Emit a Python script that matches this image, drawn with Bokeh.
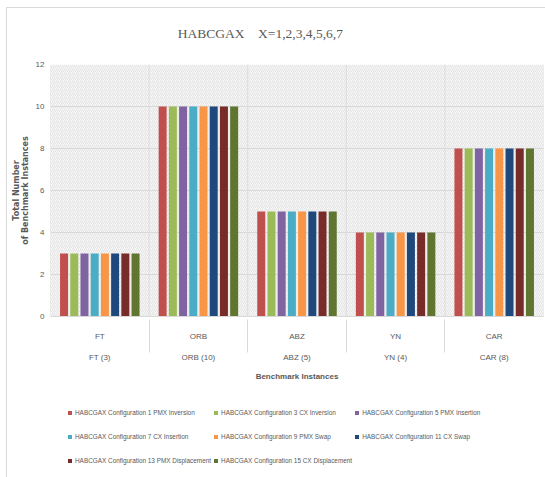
from bokeh.plotting import figure
from bokeh.layouts import column
from bokeh.models import (FactorRange, Range1d, ColumnDataSource, Legend, LegendItem,
                          BoxAnnotation, Span, FixedTicker)
from bokeh.core.properties import value
from bokeh.transform import dodge
from bokeh.embed import file_html
from bokeh.resources import INLINE

# Benchmark families and number of instances in each
categories = ["FT", "ORB", "ABZ", "YN", "CAR"]
instance_counts = [3, 10, 5, 4, 8]

# Number of benchmark instances handled by each configuration
series_names = [
    "HABCGAX Configuration 1 PMX Inversion",
    "HABCGAX Configuration 3 CX Inversion",
    "HABCGAX Configuration 5 PMX Insertion",
    "HABCGAX Configuration 7 CX Insertion",
    "HABCGAX Configuration 9 PMX Swap",
    "HABCGAX Configuration 11 CX Swap",
    "HABCGAX Configuration 13 PMX Displacement",
    "HABCGAX Configuration 15 CX Displacement",
]
series_values = [
    [3, 10, 5, 4, 8],
    [3, 10, 5, 4, 8],
    [3, 10, 5, 4, 8],
    [3, 10, 5, 4, 8],
    [3, 10, 5, 4, 8],
    [3, 10, 5, 4, 8],
    [3, 10, 5, 4, 8],
    [3, 10, 5, 4, 8],
]
series_colors = ["#C0504D", "#9BBB59", "#8064A2", "#4BACC6",
                 "#F79646", "#1F497D", "#772C2A", "#5F7530"]
y_ticks = [0, 2, 4, 6, 8, 10, 12]
chart_title = "HABCGAX\u00a0\u00a0\u00a0 X=1,2,3,4,5,6,7"

FONT = "Liberation Sans"
GREY = "#595959"
W = 538

# ---- title strip ----
head = figure(width=W, height=48, output_backend="svg", toolbar_location=None,
              x_range=Range1d(0, W), y_range=Range1d(0, 48),
              min_border=0, outline_line_color=None)
head.axis.visible = False
head.grid.grid_line_color = None
head.text(x=[229], y=[23], text=[chart_title], text_align="center",
          text_baseline="middle", text_font=value("Liberation Serif"),
          text_font_size="13.5px", text_color=GREY)

# ---- chart ----
factors = [(f"{c} ({n})", c) for c, n in zip(categories, instance_counts)]

p = figure(frame_width=493, frame_height=252, output_backend="svg",
           toolbar_location=None,
           x_range=FactorRange(*factors, group_padding=0, factor_padding=0,
                               range_padding=0),
           y_range=Range1d(0, 12),
           min_border_left=43, min_border_right=2, min_border_top=8,
           min_border_bottom=69)
p.outline_line_color = None
p.background_fill_color = "white"
p.border_fill_color = "white"

# hatched plot area
p.add_layout(BoxAnnotation(fill_color="#f6f6f6", fill_alpha=1.0, line_color=None,
                           hatch_pattern="/", hatch_color="#d9d9d9",
                           hatch_scale=4, hatch_weight=0.6, level="image"))

# group boundaries inside the plot area
for i in range(len(categories) + 1):
    p.add_layout(Span(location=i, dimension="height", line_color="#dddddd",
                      line_width=1, level="underlay"))

src = ColumnDataSource({"x": factors})
pitch = 0.1036
bar_w = 0.081
for k, (vals, col) in enumerate(zip(series_values, series_colors)):
    src.data[f"s{k}"] = vals
    p.vbar(x=dodge("x", (k - 3.5) * pitch, range=p.x_range), top=f"s{k}",
           width=bar_w, source=src, fill_color=col, line_color=None)

# grid
p.xgrid.grid_line_color = None
p.ygrid.grid_line_color = "#d9d9d9"
p.ygrid.grid_line_width = 1

# y axis
p.yaxis.ticker = FixedTicker(ticks=y_ticks)
p.yaxis.axis_line_color = None
p.yaxis.major_tick_line_color = None
p.yaxis.major_tick_out = 0
p.yaxis.minor_tick_line_color = None
p.yaxis.minor_tick_out = 0
p.yaxis.major_label_text_font = FONT
p.yaxis.major_label_text_font_size = "8px"
p.yaxis.major_label_text_color = GREY
p.yaxis.major_label_standoff = 6
p.yaxis.axis_label = "Total Number\nof Benchmark Instances"
p.yaxis.axis_label_text_font = "DejaVu Sans"
p.yaxis.axis_label_text_font_style = "bold"
p.yaxis.axis_label_text_font_size = "8px"
p.yaxis.axis_label_text_color = GREY
p.yaxis.axis_label_text_line_height = 1.0
p.yaxis.axis_label_standoff = 3

# x axis (two-level categories)
xa = p.xaxis[0]
xa.axis_line_color = "#d9d9d9"
xa.major_tick_line_color = None
xa.minor_tick_line_color = None
xa.major_label_text_font = FONT
xa.major_label_text_font_size = "8px"
xa.major_label_text_color = GREY
xa.major_label_standoff = 9
xa.group_text_font = FONT
xa.group_text_font_size = "8px"
xa.group_text_color = GREY
xa.group_text_font_style = "normal"
xa.separator_line_color = "#d9d9d9"
xa.separator_line_width = 1
xa.axis_label = "Benchmark Instances"
xa.axis_label_text_font = FONT
xa.axis_label_text_font_style = "bold"
xa.axis_label_text_font_size = "8px"
xa.axis_label_text_color = GREY
xa.axis_label_standoff = 7

# ---- legend strip, three entries per row ----
leg = figure(width=W, height=92, output_backend="svg", toolbar_location=None,
             x_range=Range1d(0, 1), y_range=Range1d(0, 1),
             min_border=0, outline_line_color=None)
leg.axis.visible = False
leg.grid.grid_line_color = None
items = []
for name, col in zip(series_names, series_colors):
    # swatch renderer kept outside the visible range; only its legend entry shows
    r = leg.vbar(x=[-5], top=[-5], width=0.1, fill_color=col, line_color=None)
    items.append(LegendItem(label=name, renderers=[r]))
legend = Legend(items=items, ncols=3, location=(17, 6), orientation="horizontal",
                label_text_font=FONT, label_text_font_size="6.4px",
                label_text_color=GREY, glyph_width=5, glyph_height=5,
                label_standoff=3, label_height=22, label_width=10, spacing=2,
                border_line_color=None, background_fill_alpha=0, margin=0, padding=5)
leg.add_layout(legend)

page = column(head, p, leg, spacing=0)
page.margin = (8, 0, 0, 7)
page.styles = {"outline": "1px solid #d9d9d9"}

open("out.html", "w").write(file_html(page, INLINE))
